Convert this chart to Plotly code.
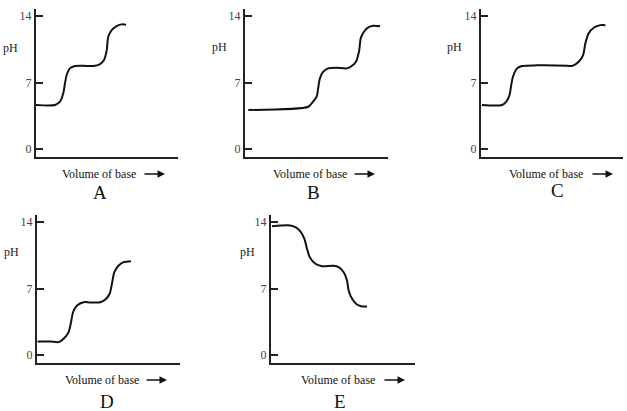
import plotly.graph_objects as go

W, H = 627, 411

# titration curves: volume of base (arbitrary units) vs pH
vol_a = [0, 1.34, 1.69, 1.92, 2.04, 2.16, 2.39, 2.75, 3.33, 4.04, 4.51, 4.79, 4.98, 5.09, 5.33, 5.68, 6.03, 6.34]
ph_a = [4.63, 4.63, 4.98, 5.86, 6.91, 7.79, 8.49, 8.74, 8.77, 8.74, 8.95, 9.37, 10.42, 11.82, 12.53, 12.95, 13.13, 13.09]

vol_b = [0.23, 4.43, 4.66, 5.01, 5.13, 5.24, 5.47, 5.82, 6.41, 7.11, 7.46, 7.76, 7.99, 8.09, 8.32, 8.62, 8.97, 9.44]
ph_b = [4.11, 4.45, 4.81, 5.51, 6.56, 7.44, 8.14, 8.49, 8.56, 8.49, 8.74, 9.19, 10.42, 11.65, 12.35, 12.81, 12.98, 12.92]

vol_c = [0.07, 1.48, 1.78, 2.01, 2.11, 2.25, 2.54, 2.89, 3.94, 6.06, 6.41, 6.88, 7.19, 7.35, 7.58, 7.94, 8.41, 8.76]
ph_c = [4.63, 4.63, 4.98, 5.68, 6.56, 7.61, 8.49, 8.74, 8.81, 8.77, 8.74, 9.19, 9.89, 11.13, 12.18, 12.77, 13.05, 13.05]

vol_d = [0.04, 0.93, 1.51, 1.86, 2.21, 2.38, 2.52, 2.8, 3.26, 3.73, 4.43, 4.78, 5.08, 5.24, 5.41, 5.71, 6.06, 6.57]
ph_d = [1.42, 1.42, 1.35, 1.71, 2.41, 3.45, 4.5, 5.22, 5.56, 5.53, 5.56, 5.85, 6.45, 7.5, 8.72, 9.43, 9.78, 9.88]

vol_e = [0.07, 1.34, 1.69, 2.05, 2.32, 2.5, 2.69, 3.08, 3.55, 4.35, 4.7, 5.05, 5.28, 5.39, 5.63, 5.97, 6.32, 6.67]
ph_e = [13.57, 13.65, 13.47, 13.01, 12.24, 11.19, 10.31, 9.61, 9.36, 9.4, 9.25, 8.72, 7.85, 6.8, 5.92, 5.32, 5.11, 5.11]

letters = ["A", "B", "C", "D", "E"]
ph_ticks = [0, 7, 14]

curves = [(vol_a, ph_a), (vol_b, ph_b), (vol_c, ph_c), (vol_d, ph_d), (vol_e, ph_e)]

# panel boxes in pixels: (left, right, top, bottom) of the axis lines
boxes = [(36, 178, 9, 157), (245, 388, 9, 157), (481, 623, 9, 157),
         (37, 180, 215, 363), (271, 415, 215, 363)]
# label positions in pixels: pH label, "Volume of base" centre, arrow end, letter
labels = [((10, 48), (99, 174), (165, 174), (100, 192)),
          ((219, 47), (310, 174), (375, 174), (313, 192)),
          ((454, 47), (546, 174), (613, 174), (557, 190)),
          ((11, 252), (102, 380), (167, 380), (107, 401)),
          ((247, 252), (338, 380), (405, 380), (340, 401))]


def px(x):
    return x / W


def py(y):
    return 1 - y / H


serif = "Liberation Serif"
fig = go.Figure()
annotations = []

for i, ((vx, vy), (l, r, t, b), lab) in enumerate(zip(curves, boxes, labels)):
    n = "" if i == 0 else str(i + 1)
    fig.add_trace(go.Scatter(
        x=vx, y=vy, mode="lines", xaxis="x" + n, yaxis="y" + n,
        line=dict(color="#111111", width=2, shape="spline", smoothing=0.8),
        showlegend=False, hoverinfo="skip",
    ))
    fig.update_layout(**{
        "xaxis" + n: dict(
            domain=[px(l), px(r)], range=[0, 10], anchor="y" + n,
            showline=True, linecolor="#222222", linewidth=2,
            showgrid=False, zeroline=False, showticklabels=False, ticks="",
            fixedrange=True,
        ),
        "yaxis" + n: dict(
            domain=[py(b), py(t)], range=[-0.85, 14.75], anchor="x" + n,
            showline=True, linecolor="#222222", linewidth=2,
            showgrid=False, zeroline=False,
            tickvals=ph_ticks, ticktext=[str(v) for v in ph_ticks],
            ticks="inside", ticklen=7, tickwidth=1.5, tickcolor="#222222",
            tickfont=dict(family=serif, size=12, color="#444444"),
            fixedrange=True,
        ),
    })
    (phx, phy), (vx_, vy_), (ax_, ay_), (lx, ly) = lab
    common = dict(xref="paper", yref="paper", xanchor="center", yanchor="middle")
    annotations += [
        dict(x=px(phx), y=py(phy), text="pH", showarrow=False,
             font=dict(family=serif, size=12, color="#222222"), **common),
        dict(x=px(vx_), y=py(vy_), text="Volume of base", showarrow=False,
             font=dict(family=serif, size=12, color="#111111"), **common),
        dict(x=px(ax_), y=py(ay_), text="", showarrow=True, ax=-22, ay=0,
             arrowhead=2, arrowsize=1, arrowwidth=1.5, arrowcolor="#111111",
             **common),
        dict(x=px(lx), y=py(ly), text=letters[i], showarrow=False,
             font=dict(family=serif, size=19, color="#111111"), **common),
    ]

fig.update_layout(
    width=W, height=H,
    margin=dict(l=0, r=0, t=0, b=0),
    paper_bgcolor="white", plot_bgcolor="white",
    annotations=annotations,
)

fig.write_html(
    "out.html",
    config={"displayModeBar": False},
    post_script="document.body.style.margin='0';document.body.style.overflow='hidden';",
)
